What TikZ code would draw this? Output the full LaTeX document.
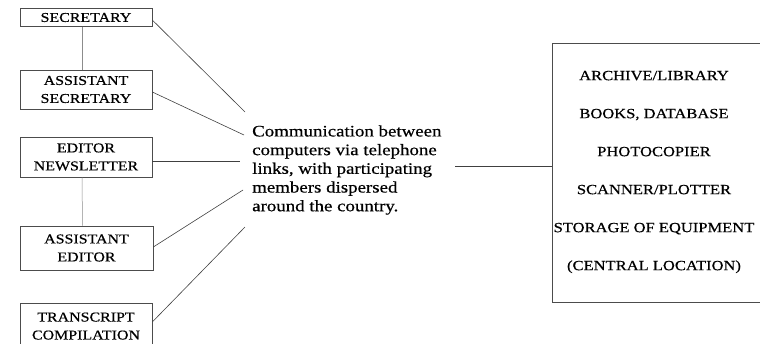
\documentclass[tikz,border=0pt]{standalone}
\usepackage{fontspec}
\setmainfont{Liberation Serif}[FakeStretch=1.18,FakeBold=0.5]
\begin{document}
\begin{tikzpicture}[x=1pt,y=-1pt,
  box/.style={draw=black!70, line width=0.6pt, rectangle, inner sep=0pt,
    minimum width=132pt, align=center, font=\fontsize{13.5}{18}\selectfont},
  link/.style={draw=black!75, line width=0.6pt},
  faint/.style={draw=black!45, line width=0.5pt}]
\useasboundingbox (0,0) rectangle (760,343);
% left boxes
\node[box, minimum height=18pt] (sec) at (86,17.5) {SECRETARY};
\node[box, minimum height=39pt] (asec) at (86,89.5) {ASSISTANT\\SECRETARY};
\node[box, minimum height=40pt] (ednl) at (86,157) {EDITOR\\NEWSLETTER};
\node[box, minimum height=44pt, minimum width=133pt] (aed) at (86.5,248) {ASSISTANT\\EDITOR};
\node[box, minimum height=50pt, text depth=4pt] (trans) at (86,328) {TRANSCRIPT\\COMPILATION};
% vertical links
\draw[faint] ([xshift=-4pt]sec.south) -- ([xshift=-4pt]asec.north);
\draw[faint] ([xshift=-4pt]ednl.south) -- ([xshift=-4pt]aed.north);
% centre text
\node[anchor=west, align=left, inner sep=0pt,
  font=\fontsize{16}{18.7}\selectfont] (comm) at (252,170)
  {Communication between\\computers via telephone\\links, with participating\\members dispersed\\around the country.};
\coordinate (p1) at (245,112);
\coordinate (p2) at (244,135);
\coordinate (p3) at (240,161);
\coordinate (p4) at (243,190);
\coordinate (p5) at (245,227);
\draw[link] ([yshift=-2.5pt]sec.east) -- (p1);
\draw[link] ([yshift=-2.5pt]asec.east) -- (p2);
\draw[link] ([yshift=-4pt]ednl.east) -- (p3);
\draw[link] ([yshift=1pt]aed.east) -- (p4);
\draw[link] ([yshift=6pt]trans.east) -- (p5);
% right box
\node[draw=black!70, line width=0.6pt, rectangle, minimum width=222pt,
  minimum height=259pt, inner sep=0pt] (arch) at (663,172.5) {};
\node[align=center, inner sep=0pt, font=\fontsize{14}{38}\selectfont] (archtxt) at (654,172)
  {ARCHIVE/LIBRARY\\BOOKS, DATABASE\\PHOTOCOPIER\\SCANNER/PLOTTER\\STORAGE OF EQUIPMENT\\(CENTRAL LOCATION)};
\coordinate (q) at (455,166);
\draw[link] (q) -- (q -| arch.west);
\end{tikzpicture}
\end{document}
